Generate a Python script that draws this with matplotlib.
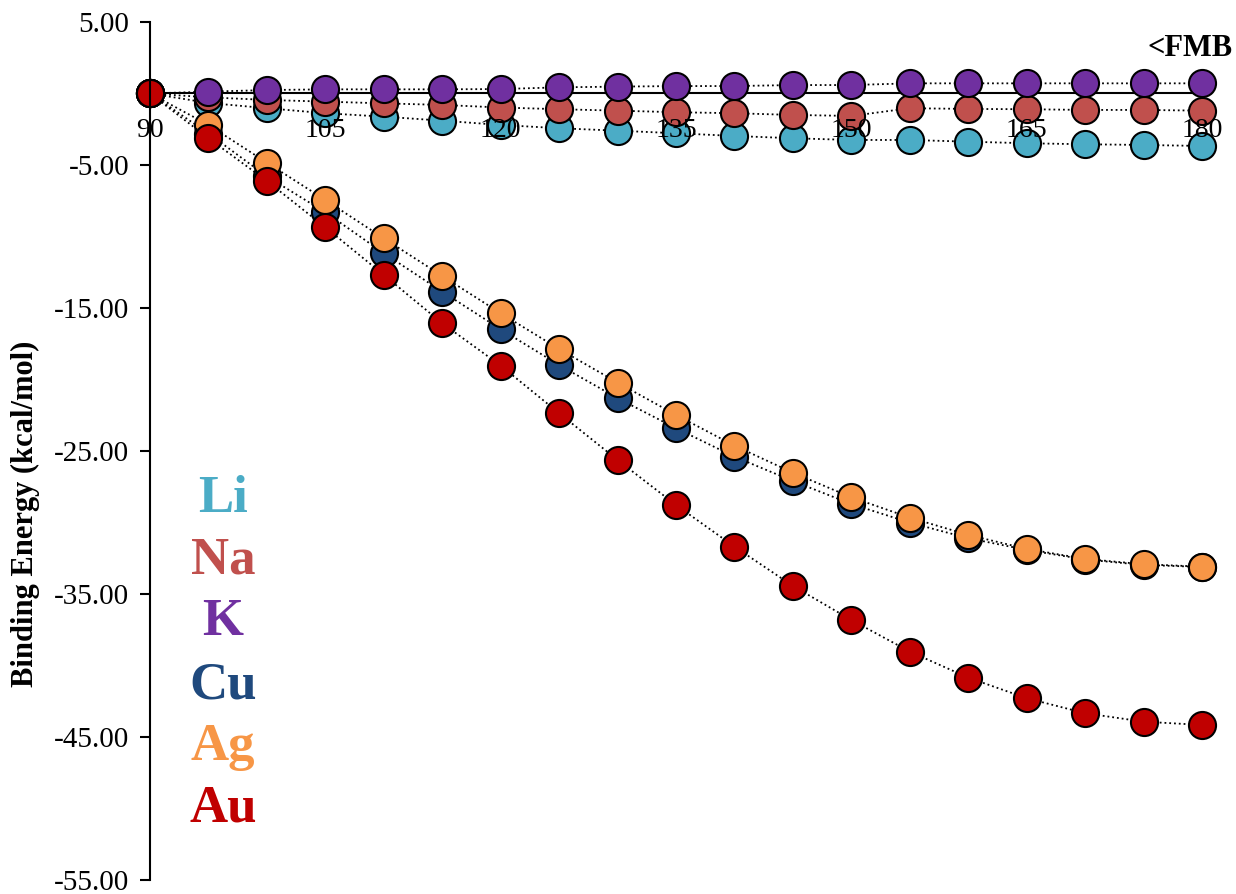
import numpy as np
import matplotlib.pyplot as plt

plt.rcParams['font.family'] = ['Liberation Serif', 'DejaVu Serif']

angle = np.arange(90, 181, 5)

li = [0.00, -0.66, -1.03, -1.38, -1.62, -1.90, -2.20, -2.43, -2.60, -2.78,
      -2.97, -3.13, -3.25, -3.25, -3.37, -3.48, -3.55, -3.60, -3.67]
na = [0.00, -0.27, -0.45, -0.57, -0.69, -0.80, -0.98, -1.10, -1.20, -1.31,
      -1.38, -1.50, -1.57, -1.03, -1.08, -1.10, -1.15, -1.15, -1.20]
k = [0.00, 0.13, 0.24, 0.29, 0.29, 0.29, 0.31, 0.43, 0.48, 0.52,
     0.52, 0.59, 0.59, 0.71, 0.71, 0.71, 0.71, 0.71, 0.71]
cu = [0.00, -2.80, -5.80, -8.31, -11.17, -13.86, -16.49, -18.99, -21.31, -23.41,
      -25.40, -27.10, -28.71, -30.01, -31.10, -31.92, -32.59, -32.97, -33.11]
ag = [0.00, -2.20, -4.84, -7.45, -10.13, -12.76, -15.37, -17.87, -20.22, -22.48,
      -24.63, -26.52, -28.24, -29.66, -30.87, -31.85, -32.55, -32.92, -33.09]
au = [0.00, -3.13, -6.12, -9.36, -12.69, -16.07, -19.03, -22.36, -25.63, -28.78,
      -31.69, -34.44, -36.82, -39.03, -40.85, -42.29, -43.34, -43.93, -44.16]

metals = ['Li', 'Na', 'K', 'Cu', 'Ag', 'Au']
series = [li, na, k, cu, ag, au]
colors = ['#4BACC6', '#C0504D', '#7030A0', '#1F497D', '#F79646', '#C00000']
label_y = [-29.3, -33.6, -37.9, -42.3, -46.6, -50.9]

fig = plt.figure(figsize=(12.36, 8.94), dpi=100)
ax = fig.add_axes([0.1214, 0.0157, 0.8511, 0.9597])

for vals, col in zip(series, colors):
    ax.plot(angle, vals, linestyle=':', color='black', linewidth=1.3,
            marker='o', markersize=19.5, markerfacecolor=col,
            markeredgecolor='black', markeredgewidth=1.5, clip_on=False)

ax.set_xlim(90, 180)
ax.set_ylim(-55, 5)
ax.set_yticks(np.arange(5, -56, -10))
ax.set_yticklabels([f'{v:.2f}' for v in np.arange(5, -56, -10)])
ax.set_xticks(np.arange(90, 181, 15))

ax.spines['top'].set_visible(False)
ax.spines['right'].set_visible(False)
ax.spines['bottom'].set_position(('data', 0))
ax.spines['bottom'].set_linewidth(1.5)
ax.spines['left'].set_linewidth(1.5)
ax.spines['bottom'].set_zorder(0)

# angle labels sit on top of the markers
ax.xaxis.set_zorder(5)

ax.tick_params(axis='y', direction='out', length=7, width=1.5, labelsize=21, pad=8)
ax.tick_params(axis='x', length=0, labelsize=20, pad=18)

for name, col, yy in zip(metals, colors, label_y):
    ax.text(96.25, yy, name, color=col, fontsize=38, fontweight='bold',
            ha='center', va='baseline')

ax.text(182.6, 2.62, '<FMB', fontsize=22, fontweight='bold',
        ha='right', va='baseline', clip_on=False)

fig.text(25 / 1236, 1 - 514 / 894, 'Binding Energy (kcal/mol)', rotation=90,
         fontsize=22, fontweight='bold', ha='center', va='center')

fig.savefig('out.png', dpi=100)
